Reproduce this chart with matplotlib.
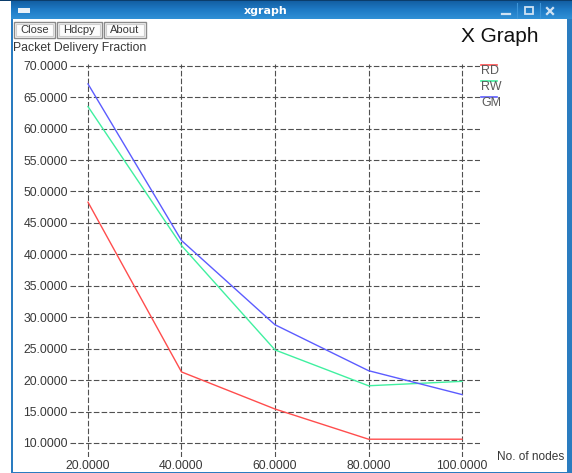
import numpy as np
import matplotlib
matplotlib.use("Agg")
import matplotlib.pyplot as plt
from matplotlib.patches import Rectangle
from matplotlib.colors import LinearSegmentedColormap

# ---- data -------------------------------------------------------------
nodes = [20, 40, 60, 80, 100]
series_names = ["RD", "RW", "GM"]
rd = [48.3, 21.3, 15.4, 10.6, 10.6]
rw = [63.5, 41.4, 24.8, 19.1, 19.8]
gm = [67.1, 42.2, 28.8, 21.5, 17.7]
y_ticks = [10, 15, 20, 25, 30, 35, 40, 45, 50, 55, 60, 65, 70]
x_ticks = [20, 40, 60, 80, 100]
y_title = "Packet Delivery Fraction"
x_title = "No. of nodes"
buttons = ["Close", "Hdcpy", "About"]

series = [rd, rw, gm]
colors = ["#ff4d4d", "#40f0a0", "#5c5cff"]

FONT = "Liberation Sans"
TXT = "#383838"
W, H = 572, 473

fig = plt.figure(figsize=(W / 100, H / 100), dpi=100)
fig.patch.set_facecolor("white")


def fx(px):
    return px / W


def fy(py):
    return 1 - py / H


# ---- plot area ---------------------------------------------------------
left, right, top, bottom = 70, 480, 64, 457
ax = fig.add_axes([fx(left), fy(bottom), (right - left) / W, (bottom - top) / H])
ax.set_facecolor("white")
ax.set_xlim(16.15, 103.85)
ax.set_ylim(7.77, 70.27)
for s in ax.spines.values():
    s.set_visible(False)
ax.set_xticks(x_ticks)
ax.set_yticks(y_ticks)
ax.set_xticklabels([f"{v:.4f}" for v in x_ticks], fontfamily=FONT, fontsize=8.8, color=TXT)
ax.set_yticklabels([f"{v:.4f}" for v in y_ticks], fontfamily=FONT, fontsize=8.8, color=TXT)
ax.tick_params(axis="both", length=0)
ax.tick_params(axis="y", pad=1.5)
ax.tick_params(axis="x", pad=2.2)
ax.grid(True, color="#505050", linestyle=(0, (5, 2)), linewidth=0.8)
ax.set_axisbelow(True)

for vals, c in zip(series, colors):
    ax.plot(nodes, vals, color=c, linewidth=1.0, zorder=3)

# ---- window decoration and labels ---------------------------------------
ov = fig.add_axes([0, 0, 1, 1], zorder=5)
ov.patch.set_alpha(0)
ov.axis("off")

# title bar
cmap = LinearSegmentedColormap.from_list("bar", ["#135fa3", "#1f7bc6", "#3090d6"])
ov.imshow(np.linspace(0, 1, 40)[:, None], extent=(11, W, 19, 1), cmap=cmap,
          aspect="auto", zorder=1)
ov.add_patch(Rectangle((0, 0), W, 1.5, facecolor="#0b3d6b", edgecolor="none", zorder=2))
ov.text(266, 10.5, "xgraph", color="white", fontsize=8, fontweight="bold",
        fontfamily="DejaVu Sans", ha="center", va="center", zorder=3)
# window menu icon
ov.add_patch(Rectangle((18, 8.5), 12, 5, facecolor="#e8f0f8", edgecolor="none", zorder=3))
# minimise / maximise / close glyphs
ov.plot([502, 510], [14, 14], color="#cfe2f3", lw=1.6, zorder=3)
ov.add_patch(Rectangle((525, 7.5), 8, 6.5, facecolor="none", edgecolor="#cfe2f3", lw=1.3, zorder=3))
ov.plot([547, 553], [8, 14], color="#cfe2f3", lw=1.6, zorder=3)
ov.plot([547, 553], [14, 8], color="#cfe2f3", lw=1.6, zorder=3)
for sx in (517, 540):
    ov.plot([sx, sx], [3, 18], color="#3d95d8", lw=0.8, zorder=3)

# buttons
btn_x = [(14, 55), (57, 102), (104, 146)]
for (x0, x1), name in zip(btn_x, buttons):
    ov.add_patch(Rectangle((x0, 22), x1 - x0, 16, facecolor="#fcfcfc",
                           edgecolor="#8a8a8a", lw=1.0, zorder=3))
    ov.add_patch(Rectangle((x0 + 2, 24), x1 - x0 - 4, 12, facecolor="none",
                           edgecolor="#cfcfcf", lw=0.8, zorder=3))
    ov.text((x0 + x1) / 2, 30, name, fontfamily=FONT, fontsize=8, color=TXT,
            ha="center", va="center", zorder=4)

ov.text(500, 36, "X Graph", fontfamily=FONT, fontsize=15, color="#111111",
        ha="center", va="center", zorder=3)
ov.text(13, 48, y_title, fontfamily=FONT, fontsize=8.8, color=TXT,
        ha="left", va="center", zorder=3)
ov.text(497, 457, x_title, fontfamily=FONT, fontsize=8.6, color=TXT,
        ha="left", va="center", zorder=3)

# legend
for i, (name, c) in enumerate(zip(series_names, colors)):
    y = 65 + 16 * i
    ov.plot([481, 497], [y, y], color=c, lw=1.2, zorder=3)
    ov.text(481, y + 6, name, fontfamily=FONT, fontsize=9, color="#5a5a5a",
            ha="left", va="center", zorder=3)

# window frame
frame = "#2a7cc0"
ov.add_patch(Rectangle((11, 19), 2, H - 19, facecolor=frame, edgecolor="none", zorder=6))
ov.add_patch(Rectangle((567, 19), W - 567, H - 19, facecolor=frame, edgecolor="none", zorder=6))
ov.add_patch(Rectangle((11, 471.5), W - 11, 1.5, facecolor=frame, edgecolor="none", zorder=6))

ov.set_xlim(0, W)
ov.set_ylim(H, 0)

fig.savefig("out.png", dpi=100, facecolor="white")
